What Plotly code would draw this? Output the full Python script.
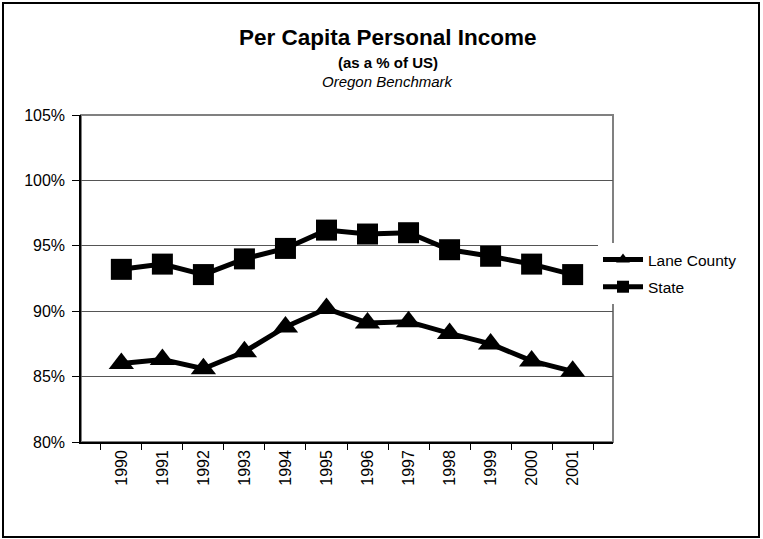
import plotly.graph_objects as go

years = ["1990", "1991", "1992", "1993", "1994", "1995",
         "1996", "1997", "1998", "1999", "2000", "2001"]
lane_county = [86.0, 86.3, 85.6, 86.9, 88.8, 90.2, 89.1, 89.2, 88.3, 87.5, 86.2, 85.4]
state = [93.2, 93.6, 92.8, 94.0, 94.8, 96.2, 95.9, 96.0, 94.7, 94.2, 93.6, 92.8]
y_ticks = [80, 85, 90, 95, 100, 105]
y_labels = ["80%", "85%", "90%", "95%", "100%", "105%"]

W, H = 763, 539
L, R, T, B = 81, 150, 115, 97
pw, ph = W - L - R, H - T - B


def px_x(x):
    return (x - L) / pw


def px_y(y):
    return (H - B - y) / ph


fig = go.Figure()
fig.add_trace(go.Scatter(x=years, y=lane_county, name="Lane County", mode="lines+markers",
                         legendgroup="a",
                         line=dict(color="black", width=5),
                         marker=dict(symbol="triangle-up", size=22, color="black")))
fig.add_trace(go.Scatter(x=years, y=state, name="State", mode="lines+markers",
                         legendgroup="b",
                         line=dict(color="black", width=5),
                         marker=dict(symbol="square", size=21, color="black")))

fig.update_layout(
    width=W, height=H,
    margin=dict(l=L, r=R, t=T, b=B),
    paper_bgcolor="white", plot_bgcolor="white",
    font=dict(family="Liberation Sans, Arial", color="black", size=16),
    showlegend=True,
    legend=dict(x=px_x(598), y=px_y(243), xanchor="left", yanchor="top",
                bgcolor="white", font=dict(size=15.5), tracegroupgap=4,
                itemsizing="constant", itemwidth=40),
)
fig.update_xaxes(type="category", tickangle=-90, showgrid=False,
                 showline=True, linecolor="black", linewidth=1.5,
                 ticks="outside", ticklen=6, tickcolor="black", tickson="boundaries",
                 tickfont=dict(size=16))
fig.update_yaxes(range=[80, 105], tickvals=y_ticks, ticktext=y_labels,
                 showgrid=True, gridcolor="#555555", gridwidth=1,
                 showline=True, linecolor="black", linewidth=1.5,
                 ticks="outside", ticklen=7, tickcolor="black", ticklabelstandoff=4,
                 zeroline=False, tickfont=dict(size=16))

# gray plot-area border (top and right)
fig.add_shape(type="rect", xref="paper", yref="paper", x0=0, x1=1, y0=0, y1=1,
              line=dict(color="#808080", width=2), layer="below")
# outer chart frame
fig.add_shape(type="rect", xref="paper", yref="paper",
              x0=px_x(3), x1=px_x(759), y0=px_y(537), y1=px_y(3),
              line=dict(color="black", width=2))

cx = px_x(388)
titles = [("<b>Per Capita Personal Income</b>", 37, 22.5),
          ("<b>(as a % of US)</b>", 62, 15),
          ("<i>Oregon Benchmark</i>", 82, 15)]
for text, ypos, size in titles:
    fig.add_annotation(x=cx, y=px_y(ypos), xref="paper", yref="paper", showarrow=False,
                       xanchor="center", yanchor="middle", text=text, font=dict(size=size))

# the page has a default body margin; drop it so the figure fills the window
fig.write_html("out.html", config={"displayModeBar": False},
               post_script="document.body.style.margin='0';")
